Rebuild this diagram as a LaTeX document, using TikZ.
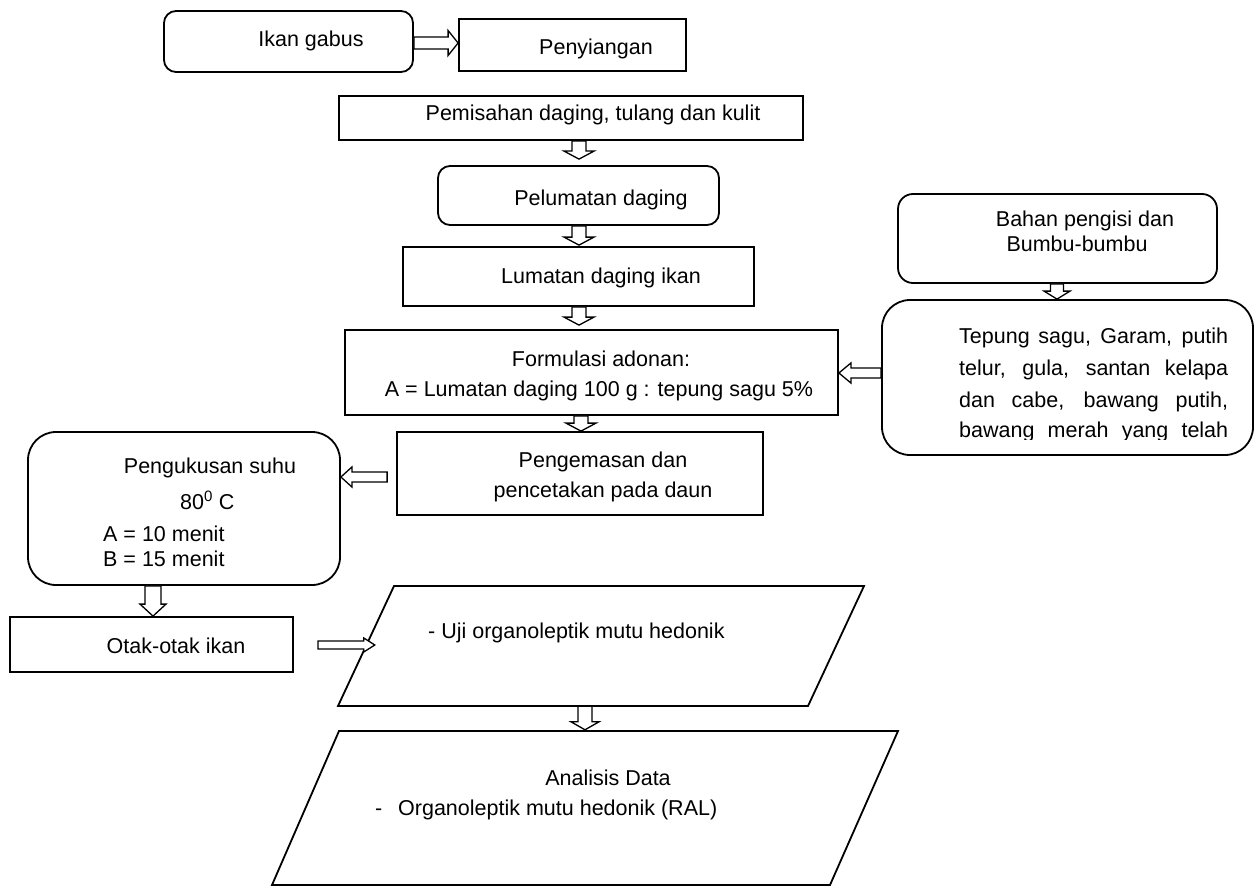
\documentclass[tikz,border=0pt]{standalone}
\usepackage{fontspec}
\setmainfont{Liberation Sans}
\usetikzlibrary{calc,fit}
\begin{document}
\begin{tikzpicture}[x=1pt,y=-1pt,
  font=\fontsize{21.5}{26}\selectfont,
  box/.style={draw, line width=1.8pt, inner sep=0pt, rectangle},
  para/.style={draw, line width=1.8pt, line join=miter},
  txt/.style={inner sep=0pt, anchor=base},
  txtl/.style={inner sep=0pt, anchor=base west},
  harrow/.style n args={3}{draw, fill=white, line width=1.3pt, line join=miter,
    to path={
      ($(\tikztostart)!#1!90:(\tikztotarget)$)
      -- ($($(\tikztotarget)!#3!(\tikztostart)$)!#1!90:(\tikztotarget)$)
      -- ($($(\tikztotarget)!#3!(\tikztostart)$)!#2!90:(\tikztotarget)$)
      -- (\tikztotarget)
      -- ($($(\tikztotarget)!#3!(\tikztostart)$)!#2!-90:(\tikztotarget)$)
      -- ($($(\tikztotarget)!#3!(\tikztostart)$)!#1!-90:(\tikztotarget)$)
      -- ($(\tikztostart)!#1!-90:(\tikztotarget)$)
      -- cycle}}
]
\useasboundingbox (0,0) rectangle (1258,888);

% ---------- boxes ----------
\node[box, rounded corners=12pt, fit={(164,11) (413,72)}] (ikan) {};
\node[box, fit={(459,19) (686,71)}] (peny) {};
\node[box, fit={(339,96) (803,140)}] (pemi) {};
\node[box, rounded corners=12pt, fit={(438,166) (719,225)}] (pelu) {};
\node[box, fit={(403,247) (754,306)}] (luma) {};
\node[box, fit={(345,330) (838,415)}] (form) {};
\node[box, rounded corners=15pt, fit={(898,194) (1217,283)}] (bahan) {};
\node[box, rounded corners=28pt, fit={(882,300) (1253,455)}] (tepung) {};
\node[box, fit={(397,432) (763,515)}] (kemas) {};
\node[box, rounded corners=28pt, fit={(28,432) (340,585)}] (kukus) {};
\node[box, fit={(10,617) (293,672)}] (otak) {};

% parallelograms
\draw[para] (394,586) -- (864,586) -- (808,706) -- (338,706) -- cycle;
\node[inner sep=0pt, fit={(338,586) (864,706)}] (uji) {};
\draw[para] (339,731) -- (898,731) -- (830,885) -- (272,885) -- cycle;
\node[inner sep=0pt, fit={(272,731) (898,885)}] (anal) {};

% ---------- texts ----------
\node[txt] (t1) at (311,47) {Ikan gabus};
\node[txt] (t2) at (596,55) {Penyiangan};
\node[txt] (t3) at (593,121) {Pemisahan daging, tulang dan kulit};
\node[txt] (t4) at (601,205) {Pelumatan daging};
\node[txt] (t5) at (601,283) {Lumatan daging ikan};
\node[txt] (t6a) at (601,366) {Formulasi adonan:};
\node[txt] (t6b) at (599,396) {A = Lumatan daging 100 g : tepung sagu 5\%};
\node[txt] (t7a) at (1085,226) {Bahan pengisi dan};
\node[txt] (t7b) at (1077,251) {Bumbu-bumbu};
\begin{scope}
  \clip (940,310) rectangle (1245,439);
  \node[txtl] (t8a) at (959,343) {\makebox[269pt][s]{Tepung sagu, Garam, putih}};
  \node[txtl] (t8b) at (959,375) {\makebox[269pt][s]{telur, gula, santan kelapa}};
  \node[txtl] (t8c) at (959,407) {\makebox[269pt][s]{dan cabe, bawang putih,}};
  \node[txtl] (t8d) at (959,437) {\makebox[269pt][s]{bawang merah yang telah}};
\end{scope}
\node[txt] (t9a) at (603,467) {Pengemasan dan};
\node[txt] (t9b) at (603,497) {pencetakan pada daun};
\node[txt] (t10a) at (210,473) {Pengukusan suhu};
\node[txtl] (t10b) at (180,509) {80\textsuperscript{0} C};
\node[txtl] (t10c) at (103,541) {A = 10 menit};
\node[txtl] (t10d) at (103,566) {B = 15 menit};
\node[txt] (t11) at (176,653) {Otak-otak ikan};
\node[txtl] (t12) at (428,638) {- Uji organoleptik mutu hedonik};
\node[txt] (t13a) at (608,785) {Analisis Data};
\node[txtl] (t13b) at (375,815) {-};
\node[txtl] (t13c) at (398,815) {Organoleptik mutu hedonik (RAL)};

% ---------- connector end points ----------
\coordinate (ya) at (0,43);
\coordinate (xb) at (579,0);
\coordinate (xc) at (581,0);
\coordinate (xd) at (1057,0);
\coordinate (ye) at (0,373);
\coordinate (yf) at (0,477);
\coordinate (xg) at (153,0);
\coordinate (yh) at (0,645);
\coordinate (xi) at (585,0);

\coordinate (a1s) at (ikan.east |- ya);   \coordinate (a1e) at (peny.west |- ya);
\coordinate (a2s) at (pemi.south -| xb);  \coordinate (a2e) at ($(pelu.north -| xb)+(0,-6)$);
\coordinate (a3s) at (pelu.south -| xb);  \coordinate (a3e) at ($(luma.north -| xb)+(0,-1)$);
\coordinate (a4s) at (luma.south -| xb);  \coordinate (a4e) at ($(form.north -| xb)+(0,-4)$);
\coordinate (a5s) at (form.south -| xc);  \coordinate (a5e) at (kemas.north -| xc);
\coordinate (a6s) at (bahan.south -| xd); \coordinate (a6e) at (tepung.north -| xd);
\coordinate (a7s) at (tepung.west |- ye); \coordinate (a7e) at (form.east |- ye);
\coordinate (a8s) at ($(kemas.west |- yf)+(-9,0)$); \coordinate (a8e) at (kukus.east |- yf);
\coordinate (a9s) at (kukus.south -| xg); \coordinate (a9e) at (otak.north -| xg);
\coordinate (a10s) at ($(otak.east |- yh)+(24,0)$); \coordinate (a10e) at ($(uji.west |- yh)+(37,0)$);
\coordinate (a11s) at (uji.south -| xi); \coordinate (a11e) at ($(anal.north -| xi)+(0,-1)$);

% ---------- connectors ----------
\draw[harrow={6pt}{12.5pt}{10pt}] (a1s) to (a1e);
\draw[harrow={7pt}{15pt}{8pt}] (a2s) to (a2e);
\draw[harrow={7pt}{15pt}{8pt}] (a3s) to (a3e);
\draw[harrow={7pt}{15pt}{8pt}] (a4s) to (a4e);
\draw[harrow={7pt}{15pt}{8pt}] (a5s) to (a5e);
\draw[harrow={6.5pt}{13pt}{8pt}] (a6s) to (a6e);
\draw[harrow={5pt}{10pt}{12pt}] (a7s) to (a7e);
\draw[harrow={5pt}{10pt}{11pt}] (a8s) to (a8e);
\draw[harrow={8pt}{13pt}{12pt}] (a9s) to (a9e);
\draw[harrow={4pt}{7pt}{11pt}] (a10s) to (a10e);
\draw[harrow={7pt}{14pt}{8pt}] (a11s) to (a11e);
\end{tikzpicture}
\end{document}
